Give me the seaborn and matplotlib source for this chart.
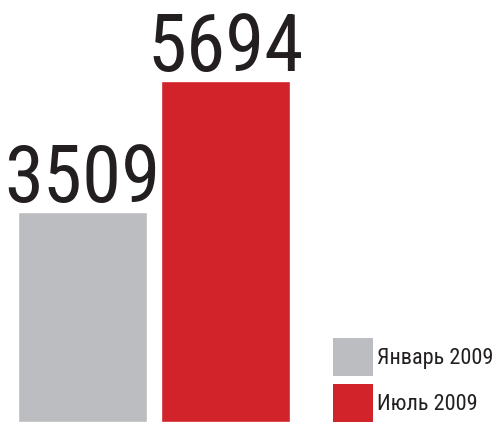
import matplotlib
matplotlib.use("Agg")
import matplotlib.pyplot as plt
import seaborn as sns
import pandas as pd
from matplotlib.patches import Patch

periods = ["Январь 2009", "Июль 2009"]
values = [3509, 5694]
colors = ["#bcbdc0", "#d2232a"]

sns.set_style("white")
plt.rcParams["font.family"] = ["Roboto Condensed", "DejaVu Sans"]

df = pd.DataFrame({"period": periods, "value": values})

fig = plt.figure(figsize=(5.02, 4.22), dpi=100)
ax = fig.add_axes([0, 0, 1, 1])
sns.barplot(data=df, x="period", y="value", hue="period", palette=colors,
            width=0.902, legend=False, ax=ax, saturation=1)

for i, v in enumerate(values):
    ax.annotate(str(v), (i, v), xytext=(0, 7), textcoords="offset points",
                ha="center", va="baseline", fontsize=57,
                color="#231f20")

ax.set_xlim(-0.577, 2.934)
ax.set_ylim(0, 7046)
ax.axis("off")

handles = [Patch(facecolor=c, edgecolor="none") for c in colors]
fig.legend(handles, periods, loc="lower left", bbox_to_anchor=(0.663, 0.0),
           frameon=False, prop={"size": 16},
           handlelength=1.8, handleheight=2.23, handletextpad=0.2,
           labelspacing=0.37, borderpad=0, borderaxespad=0,
           labelcolor="#231f20")

fig.savefig("out.png", dpi=100)
